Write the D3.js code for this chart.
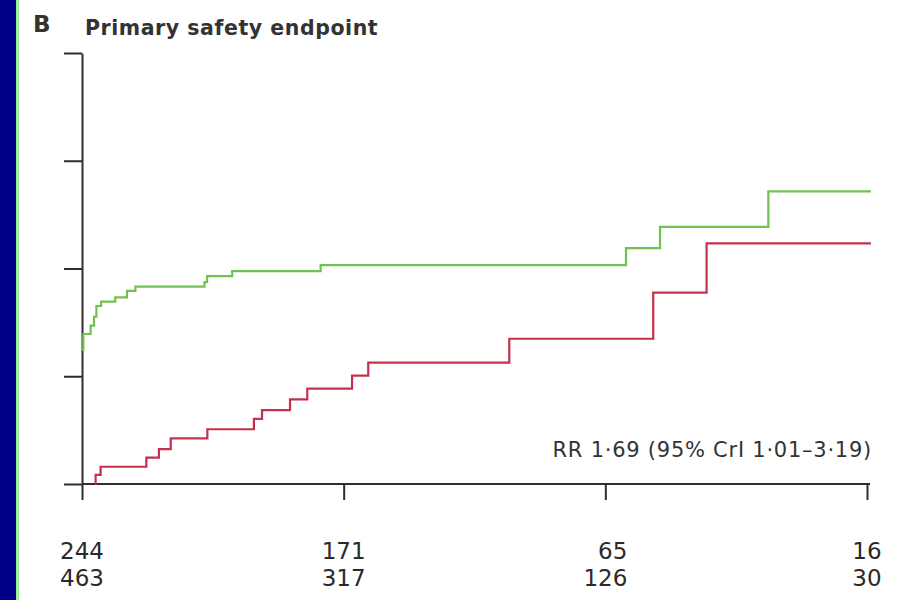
<!DOCTYPE html>
<html>
<head>
<meta charset="utf-8">
<script src="https://cdn.jsdelivr.net/npm/d3@7"></script>
<style>
  html, body { margin: 0; padding: 0; background: #fff; }
  svg { display: block; }
</style>
</head>
<body>
<svg id="chart" width="908" height="600"></svg>
<script>
// ---- data ----
const xTickValues = [0, 1, 2, 3];          // years
const yTickValues = [0, 5, 10, 15, 20];    // cumulative incidence (%)
const atRiskRow1 = [244, 171, 65, 16];
const atRiskRow2 = [463, 317, 126, 30];
const greenTimes  = [0, 0.005, 0.033, 0.046, 0.055, 0.073, 0.127, 0.172, 0.204, 0.468, 0.478, 0.574, 0.912, 2.079, 2.209, 2.623, 3.015];
const greenValues = [6.22, 6.96, 7.35, 7.76, 8.26, 8.46, 8.66, 8.96, 9.16, 9.37, 9.65, 9.88, 10.16, 10.95, 11.93, 13.58, 13.58];
const redTimes  = [0.051, 0.052, 0.071, 0.246, 0.294, 0.339, 0.479, 0.657, 0.688, 0.795, 0.861, 1.032, 1.094, 1.633, 2.183, 2.387, 3.015];
const redValues = [0, 0.42, 0.80, 1.22, 1.62, 2.12, 2.54, 3.02, 3.43, 3.93, 4.43, 5.03, 5.63, 6.74, 8.88, 11.17, 11.17];
const panelLabel = "B";
const titleText = "Primary safety endpoint";
const rrText = "RR 1·69 (95% CrI 1·01–3·19)";

// ---- drawing ----
const svg = d3.select("#chart");
const axisColor = "#2e2e2e";
const fontFam = "'DejaVu Sans', sans-serif";

svg.append("rect").attr("x", 0).attr("y", 0).attr("width", 908).attr("height", 600).attr("fill", "#fff");
svg.append("rect").attr("x", 0).attr("y", 0).attr("width", 16).attr("height", 600).attr("fill", "#000088");
svg.append("rect").attr("x", 16).attr("y", 0).attr("width", 3).attr("height", 600).attr("fill", "#98f098");

const x = d3.scaleLinear().domain([0, 3]).range([82, 867]);
const y = d3.scaleLinear().domain([0, 20]).range([484, 53]);

const yAxis = svg.append("g").attr("transform", "translate(82,0)")
  .call(d3.axisLeft(y).tickValues(yTickValues).tickSize(18).tickSizeOuter(0).tickFormat(""));
const xAxis = svg.append("g").attr("transform", "translate(0,484)")
  .call(d3.axisBottom(x).tickValues(xTickValues).tickSize(16).tickSizeOuter(0).tickFormat(""));
[yAxis, xAxis].forEach(g => {
  g.selectAll("path, line").attr("stroke", axisColor).attr("stroke-width", 2);
});
xAxis.select("path.domain").attr("d", `M${x(0)},0H${x(3) + 3}`);

const line = d3.line().curve(d3.curveStepAfter).x(d => x(d[0])).y(d => y(d[1]));
svg.append("path")
  .datum(greenTimes.map((t, i) => [t, greenValues[i]]))
  .attr("d", line).attr("fill", "none").attr("stroke", "#72c052").attr("stroke-width", 2.2);
svg.append("path")
  .datum(redTimes.map((t, i) => [t, redValues[i]]))
  .attr("d", line).attr("fill", "none").attr("stroke", "#c4304e").attr("stroke-width", 2.2);

// titles
svg.append("text").attr("x", 33).attr("y", 32).text(panelLabel)
  .attr("font-family", fontFam).attr("font-weight", "bold").attr("font-size", 23).attr("fill", "#333");
svg.append("text").attr("x", 85).attr("y", 35).text(titleText)
  .attr("font-family", fontFam).attr("font-weight", "bold").attr("font-size", 20.5)
  .attr("letter-spacing", 0.55).attr("fill", "#333");

svg.append("text").attr("x", 872).attr("y", 457).attr("text-anchor", "end").text(rrText)
  .attr("font-family", fontFam).attr("font-size", 21).attr("letter-spacing", 0.75).attr("fill", "#333");

// number at risk
const rows = [atRiskRow1, atRiskRow2];
const rowY = [559, 586];
xTickValues.forEach((tv, i) => {
  const texts = rows.map((r, j) => svg.append("text").attr("y", rowY[j]).text(r[i])
    .attr("font-family", fontFam).attr("font-size", 23).attr("fill", "#2a2a2a").attr("text-anchor", "end"));
  const maxW = d3.max(texts, t => t.node().getComputedTextLength());
  texts.forEach(t => t.attr("x", x(tv) + maxW / 2));
});
</script>
</body>
</html>
